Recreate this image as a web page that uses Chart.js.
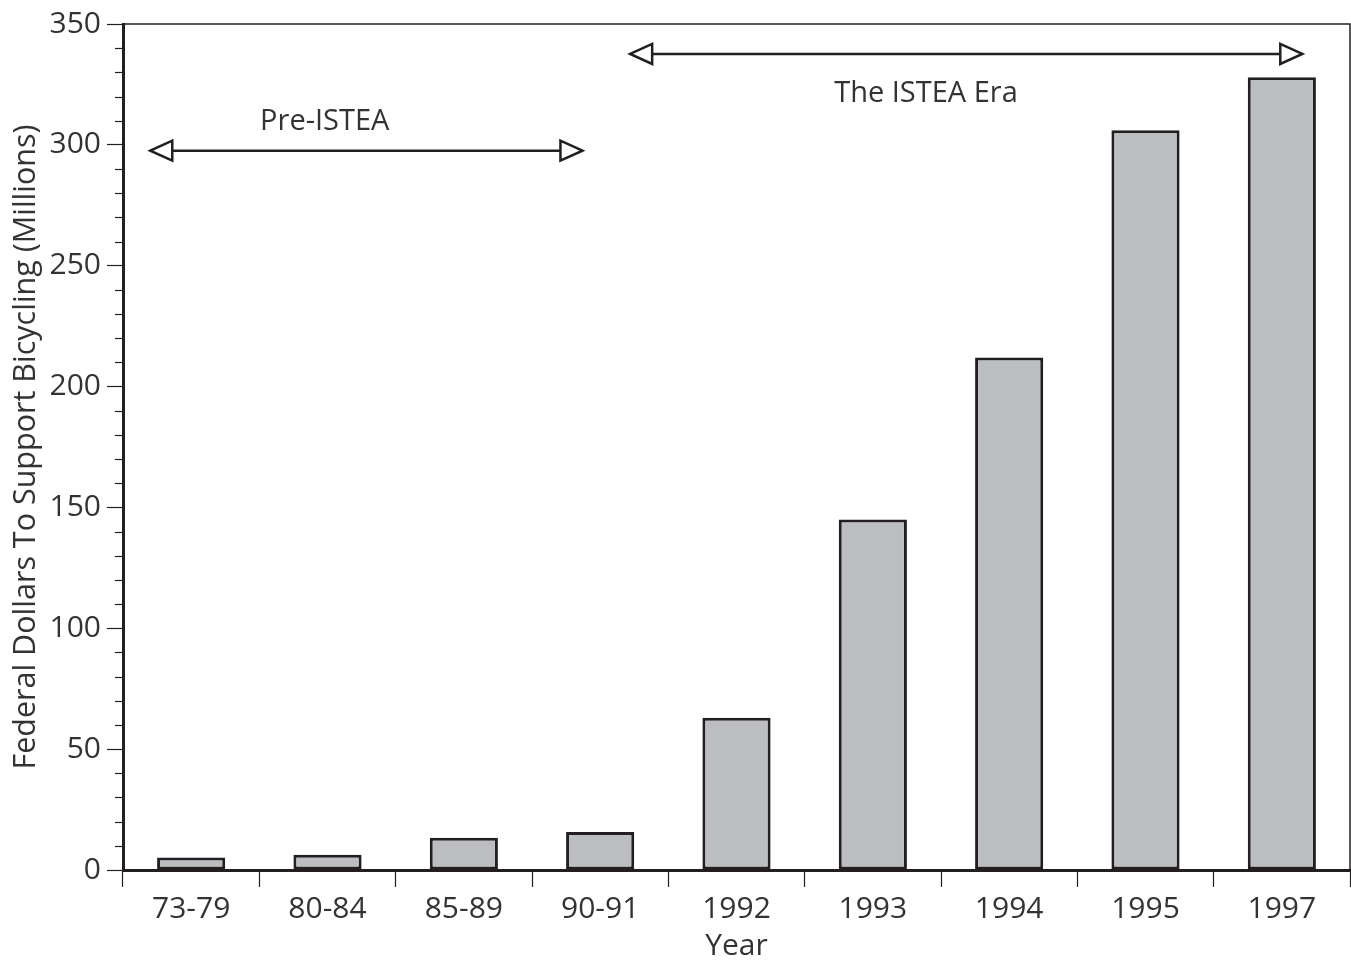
<!DOCTYPE html>
<html>
<head>
<meta charset="utf-8">
<script src="https://cdn.jsdelivr.net/npm/chart.js@4/dist/chart.umd.min.js"></script>
<style>
  html, body { margin: 0; padding: 0; background: #fff; }
  #wrap { width: 1351px; height: 964px; position: relative; }
</style>
</head>
<body>
<div id="wrap"><canvas id="fundingChart"></canvas></div>
<script>
// data
const years = ['73-79', '80-84', '85-89', '90-91', '1992', '1993', '1994', '1995', '1997'];
const dollars = [5.2, 6.3, 13.3, 15.7, 63, 145, 212, 306, 328];
const yTicksMajor = [0, 50, 100, 150, 200, 250, 300, 350];

const ink = '#231f20';
const textColor = '#333333';
const fontFamily = '"Open Sans", "DejaVu Sans", sans-serif';

// era arrows, placed in data units (category index, value)
const eras = [
  { label: 'Pre-ISTEA', from: -0.30, to: 2.87, at: 297.6, labelX: 0.98, labelY: 309.5 },
  { label: 'The ISTEA Era', from: 3.22, to: 8.15, at: 337.6, labelX: 5.39, labelY: 321 }
];

const framePlugin = {
  id: 'frame',
  afterDraw(chart) {
    const { ctx, chartArea: a, scales: { x, y } } = chart;
    ctx.save();
    // thin top / right border
    ctx.strokeStyle = ink;
    ctx.lineWidth = 1.5;
    ctx.beginPath();
    ctx.moveTo(a.left, a.top);
    ctx.lineTo(a.right, a.top);
    ctx.lineTo(a.right, a.bottom);
    ctx.stroke();

    // minor y ticks every 10
    ctx.lineWidth = 1.2;
    for (let v = 0; v <= 350; v += 10) {
      if (v % 50 === 0) continue;
      const py = Math.round(y.getPixelForValue(v)) + 0.5;
      ctx.beginPath();
      ctx.moveTo(a.left - 8, py);
      ctx.lineTo(a.left, py);
      ctx.stroke();
    }

    // era arrows
    ctx.lineWidth = 2.5;
    ctx.lineJoin = 'miter';
    eras.forEach(e => {
      const x0 = x.getPixelForValue(e.from);
      const x1 = x.getPixelForValue(e.to);
      const py = y.getPixelForValue(e.at);
      const hl = 22, hh = 10;
      ctx.beginPath();
      ctx.moveTo(x0 + hl, py);
      ctx.lineTo(x1 - hl, py);
      ctx.stroke();
      // open heads
      ctx.beginPath();
      ctx.moveTo(x0, py);
      ctx.lineTo(x0 + hl, py - hh);
      ctx.lineTo(x0 + hl, py + hh);
      ctx.closePath();
      ctx.stroke();
      ctx.beginPath();
      ctx.moveTo(x1, py);
      ctx.lineTo(x1 - hl, py - hh);
      ctx.lineTo(x1 - hl, py + hh);
      ctx.closePath();
      ctx.stroke();

      ctx.fillStyle = textColor;
      ctx.font = '29px ' + fontFamily;
      ctx.textAlign = 'center';
      ctx.textBaseline = 'middle';
      ctx.fillText(e.label, x.getPixelForValue(e.labelX), y.getPixelForValue(e.labelY));
    });
    ctx.restore();
  }
};

const ctx = document.getElementById('fundingChart').getContext('2d');
new Chart(ctx, {
  type: 'bar',
  data: {
    labels: years,
    datasets: [{
      data: dollars,
      backgroundColor: '#bcbdc0',
      borderColor: ink,
      borderWidth: 3,
      borderSkipped: false,
      barPercentage: 0.5,
      categoryPercentage: 1
    }]
  },
  options: {
    responsive: true,
    maintainAspectRatio: false,
    animation: false,
    layout: { padding: { top: 22, right: 1, left: 0, bottom: 0 } },
    plugins: { legend: { display: false }, tooltip: { enabled: false } },
    scales: {
      x: {
        grid: { offset: true, drawOnChartArea: false, tickLength: 17, color: ink, tickWidth: 1.2 },
        border: { color: ink, width: 3 },
        ticks: { color: textColor, font: { family: fontFamily, size: 30 }, padding: 4, maxRotation: 0 },
        title: { display: true, text: 'Year', color: textColor, font: { family: fontFamily, size: 30 }, padding: { top: -4, bottom: 0 } },
        afterFit(s) { s.height = 94; }
      },
      y: {
        min: 0, max: 350,
        afterBuildTicks(s) { s.ticks = yTicksMajor.map(v => ({ value: v })); },
        grid: { drawOnChartArea: false, tickLength: 16, color: ink, tickWidth: 1.2 },
        border: { color: ink, width: 3 },
        ticks: { color: textColor, font: { family: fontFamily, size: 30 }, padding: 6, autoSkip: false },
        title: { display: true, text: 'Federal Dollars To Support Bicycling (Millions)', color: textColor, font: { family: fontFamily, size: 30.5 }, padding: { top: 8, bottom: 4 } },
        afterFit(s) { s.width = 123; }
      }
    }
  },
  plugins: [framePlugin]
});
</script>
</body>
</html>
